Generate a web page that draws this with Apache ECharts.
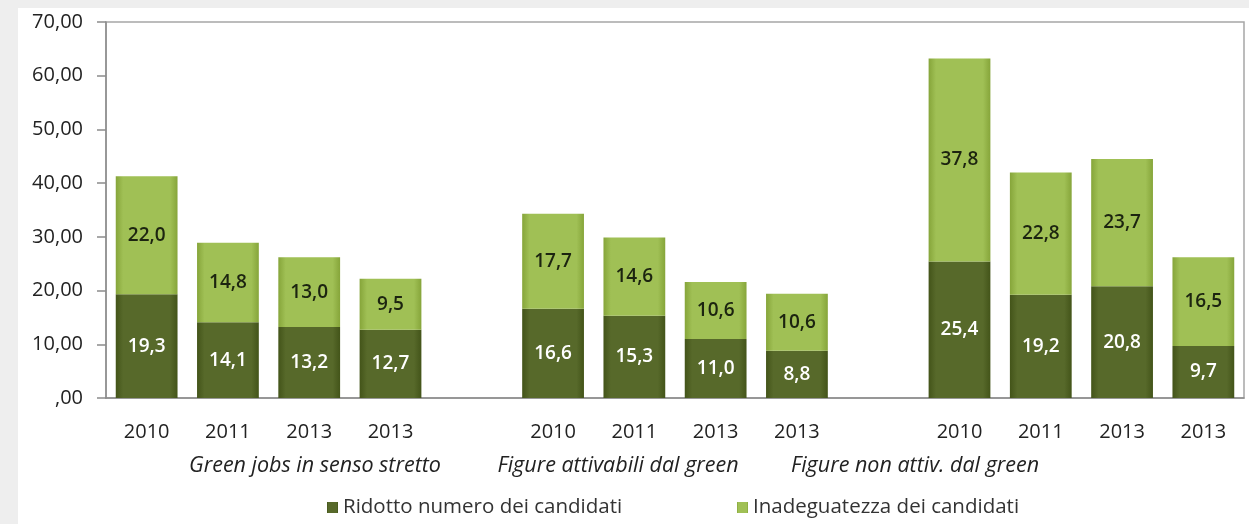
<!DOCTYPE html>
<html>
<head>
<meta charset="utf-8">
<script src="https://cdn.jsdelivr.net/npm/echarts@6/dist/echarts.min.js"></script>
<style>
  html, body { margin: 0; padding: 0; background: #eeeeee; width: 1249px; height: 524px; overflow: hidden; }
  #chart { position: absolute; left: 18px; top: 8px; width: 1231px; height: 516px; background: #ffffff; }
</style>
</head>
<body>
<div id="chart"></div>
<script>
const categories = ['2010', '2011', '2013', '2013', '', '2010', '2011', '2013', '2013', '', '2010', '2011', '2013', '2013'];
const ridotto = [19.3, 14.1, 13.2, 12.7, null, 16.6, 15.3, 11.0, 8.8, null, 25.4, 19.2, 20.8, 9.7];
const inadeguatezza = [22.0, 14.8, 13.0, 9.5, null, 17.7, 14.6, 10.6, 10.6, null, 37.8, 22.8, 23.7, 16.5];
const groupLabels = ['Green jobs in senso stretto', 'Figure attivabili dal green', 'Figure non attiv. dal green'];
const seriesNames = ['Ridotto numero dei candidati', 'Inadeguatezza dei candidati'];
const yTicks = [0, 10, 20, 30, 40, 50, 60, 70];

const FONT = '"Open Sans", sans-serif';
const chart = echarts.init(document.getElementById('chart'));

function hGrad(edge, mid) {
  return new echarts.graphic.LinearGradient(0, 0, 1, 0, [
    { offset: 0, color: edge }, { offset: 0.12, color: mid }, { offset: 0.88, color: mid }, { offset: 1, color: edge }
  ]);
}
const fmt = p => (p.value == null ? '' : p.value.toFixed(1).replace('.', ','));

const groupX = [297, 600, 897];

chart.setOption({
  animation: false,
  grid: { left: 88, right: 5, top: 14, bottom: 126, show: true, borderColor: '#a6a6a6', borderWidth: 1.5, backgroundColor: 'transparent' },
  legend: [
    { data: [seriesNames[0]], left: 304, top: 484, itemWidth: 11, itemHeight: 11, icon: 'rect', itemGap: 5,
      textStyle: { fontFamily: FONT, fontSize: 20.5, color: '#333' } },
    { data: [seriesNames[1]], left: 714, top: 484, itemWidth: 11, itemHeight: 11, icon: 'rect', itemGap: 5,
      textStyle: { fontFamily: FONT, fontSize: 20.5, color: '#333' } }
  ],
  xAxis: {
    type: 'category', data: categories,
    axisLine: { lineStyle: { color: '#8c8c8c', width: 1.5 } },
    axisTick: { show: false },
    axisLabel: { interval: 0, margin: 24, fontFamily: FONT, fontSize: 20, color: '#222' }
  },
  yAxis: {
    type: 'value', min: 0, max: 70, interval: 10,
    axisLine: { show: true, lineStyle: { color: '#8c8c8c', width: 1.5 } },
    axisTick: { show: true, length: 9, lineStyle: { color: '#8c8c8c', width: 1.5 } },
    splitLine: { show: false },
    axisLabel: { margin: 23, fontFamily: FONT, fontSize: 20, color: '#222',
      formatter: v => (yTicks.includes(v) ? (v === 0 ? ',00' : v.toFixed(2).replace('.', ',')) : '') }
  },
  series: [
    { name: seriesNames[0], type: 'bar', stack: 'tot', data: ridotto, barWidth: '76%',
      itemStyle: { color: hGrad('#435419', '#57692a') },
      label: { show: true, position: 'inside', formatter: fmt, color: '#ffffff', fontFamily: FONT, fontSize: 19, fontWeight: 600 } },
    { name: seriesNames[1], type: 'bar', stack: 'tot', data: inadeguatezza, barWidth: '76%',
      itemStyle: { color: hGrad('#86a53a', '#a0c055') },
      label: { show: true, position: 'inside', formatter: fmt, color: '#1c2410', fontFamily: FONT, fontSize: 19, fontWeight: 600 } }
  ],
  graphic: groupLabels.map((t, i) => ({
    type: 'text', x: groupX[i], y: 458,
    style: { text: t, fontFamily: FONT, fontSize: 21.5, fontStyle: 'italic', fill: '#222', align: 'center', verticalAlign: 'middle' }
  }))
});
</script>
</body>
</html>
